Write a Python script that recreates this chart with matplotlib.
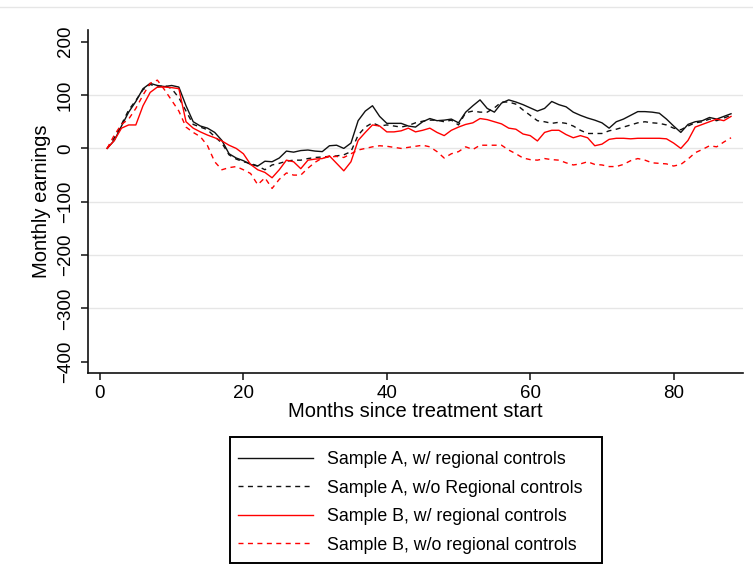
import numpy as np
import matplotlib
matplotlib.use('Agg')
import matplotlib.pyplot as plt
from matplotlib.lines import Line2D
from matplotlib.patches import Rectangle

plt.rcParams['font.family'] = ['Liberation Sans', 'DejaVu Sans']

months = np.arange(1, 89)

# Sample A, w/ regional controls
a_w = [0, 15, 42, 68, 88, 112, 122, 118, 116, 118,
       115, 80, 50, 42, 38, 30, 15, -10, -18, -23,
       -30, -33, -24, -25, -18, -5, -7, -4, -3, -5,
       -6, 5, 6, 0, 10, 52, 70, 80, 60, 47,
       47, 47, 42, 40, 50, 56, 52, 53, 55, 48,
       68, 80, 91, 75, 68, 85, 91, 87, 82, 76,
       70, 75, 88, 82, 78, 68, 62, 57, 53, 48,
       38, 50, 55, 62, 69, 69, 68, 66, 55, 42,
       30, 45, 50, 52, 58, 55, 60, 65]
# Sample A, w/o regional controls
a_wo = [0, 20, 45, 72, 90, 110, 120, 115, 118, 112,
        95, 70, 45, 40, 35, 22, 10, -12, -20, -25,
        -28, -33, -40, -31, -28, -24, -22, -22, -19, -17,
        -16, -15, -14, -12, -6, 25, 40, 48, 42, 44,
        42, 40, 43, 48, 51, 53, 53, 50, 53, 44,
        67, 70, 68, 68, 76, 87, 87, 83, 72, 62,
        52, 50, 47, 49, 47, 42, 34, 28, 28, 28,
        33, 36, 40, 44, 48, 50, 48, 47, 44, 38,
        35, 42, 48, 50, 55, 52, 57, 62]
# Sample B, w/ regional controls
b_w = [0, 15, 38, 44, 44, 80, 105, 115, 115, 114,
       112, 50, 38, 31, 25, 20, 14, 6, 0, -10,
       -30, -40, -45, -55, -40, -22, -25, -38, -22, -20,
       -19, -14, -28, -42, -25, 15, 30, 44, 42, 31,
       31, 33, 38, 31, 34, 38, 30, 24, 34, 40,
       45, 48, 56, 54, 50, 46, 38, 36, 27, 24,
       14, 30, 34, 34, 26, 20, 24, 20, 5, 8,
       17, 19, 19, 18, 19, 19, 19, 19, 18, 10,
       0, 15, 40, 45, 50, 55, 52, 60]
# Sample B, w/o regional controls
b_wo = [0, 25, 45, 55, 75, 100, 122, 128, 110, 90,
        70, 40, 30, 22, 5, -25, -40, -36, -34, -40,
        -47, -68, -55, -75, -58, -46, -50, -50, -37, -26,
        -18, -16, -15, -17, -10, -3, 0, 3, 5, 4,
        2, 0, 2, 4, 6, 3, -6, -18, -10, -6,
        3, -2, 6, 6, 6, 6, -3, -10, -18, -21,
        -22, -19, -21, -22, -27, -31, -29, -25, -30, -31,
        -34, -34, -30, -23, -19, -22, -27, -28, -29, -33,
        -30, -20, -8, -2, 5, 3, 12, 20]

labels = ['Sample A, w/ regional controls',
          'Sample A, w/o Regional controls',
          'Sample B, w/ regional controls',
          'Sample B, w/o regional controls']

dash = (0, (3.6, 3.2))

fig = plt.figure(figsize=(7.53, 5.77), dpi=100)
W, H = 753, 577
ax = fig.add_axes([88 / W, (H - 373) / H, (743 - 88) / W, (373 - 30) / H])

ax.plot(months, a_w, c='#111111', lw=1.0)
ax.plot(months, a_wo, c='#111111', lw=1.0, ls=dash)
ax.plot(months, b_w, c='#ff0000', lw=1.0)
ax.plot(months, b_wo, c='#ff0000', lw=1.0, ls=dash)

ax.set_xlim(-1.67, 89.67)
ax.set_ylim(-421, 222)
ax.set_xticks([0, 20, 40, 60, 80])
ax.set_yticks([-400, -300, -200, -100, 0, 100, 200])
for v in [-300, -200, -100, 0, 100]:
  ax.axhline(v, color='#e6e6e6', lw=1.0, zorder=0)

for s in ['top', 'right']:
  ax.spines[s].set_visible(False)
for s in ['left', 'bottom']:
  ax.spines[s].set_linewidth(1.2)
  ax.spines[s].set_color('#111111')

ax.tick_params(axis='both', length=5, width=1.1, color='#111111', labelsize=13.5)
ax.tick_params(axis='y', pad=5)
ax.tick_params(axis='x', pad=4)
plt.setp(ax.get_yticklabels(), rotation=90, va='center')

ax.set_xlabel('Months since treatment start', fontsize=14.5)
ax.set_ylabel('Monthly earnings', fontsize=14.5)
ax.xaxis.set_label_coords(0.5, -0.085)
ax.yaxis.set_label_coords(-0.057, 0.5)

handles = [Line2D([], [], c='#111111', lw=1.0),
           Line2D([], [], c='#111111', lw=1.0, ls=dash),
           Line2D([], [], c='#ff0000', lw=1.0),
           Line2D([], [], c='#ff0000', lw=1.0, ls=dash)]
leg = fig.legend(handles, labels, loc='upper left', bbox_to_anchor=(238 / W, 1 - 451 / H),
                 fontsize=12.8, handlelength=4.2, handletextpad=0.8, labelspacing=0.65,
                 borderpad=0, borderaxespad=0, frameon=False)

# legend box, drawn on its own (Stata style padding)
fig.add_artist(Rectangle((230 / W, 1 - 563 / H), 372 / W, 126 / H, transform=fig.transFigure,
                         fill=False, ec='black', lw=1.4))

# faint line along the top of the picture
fig.add_artist(Line2D([0, 1], [1 - 7 / H, 1 - 7 / H], transform=fig.transFigure,
                      color='#e6e6e6', lw=1.0))

plt.savefig('out.png')
